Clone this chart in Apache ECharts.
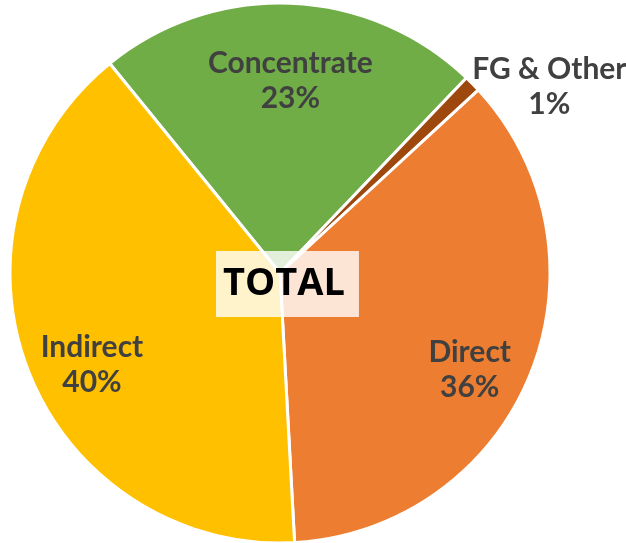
<!DOCTYPE html>
<html>
<head>
<meta charset="utf-8">
<script src="https://cdn.jsdelivr.net/npm/echarts@6/dist/echarts.min.js"></script>
<style>
  html, body { margin: 0; padding: 0; background: #fff; }
  #chart { width: 626px; height: 543px; }
</style>
</head>
<body>
<div id="chart"></div>
<script>
// slice names and shares (%)
const categories = ['Concentrate', 'FG & Other', 'Direct', 'Indirect'];
const shares = [23, 1, 36, 40];
const sliceColors = ['#70AD47', '#9E480E', '#ED7D31', '#FFC000'];

// nudges so labels sit where the original has them
const labelNudge = [[2, 16], [121, -40], [-3, 19], [6, 17]];

const pieData = categories.map((name, i) => ({
    name: name,
    value: shares[i],
    itemStyle: { color: sliceColors[i] }
}));

const chart = echarts.init(document.getElementById('chart'));
chart.setOption({
    animation: false,
    title: {
        text: 'TOTAL',
        left: 216,
        top: 251,
        padding: [13, 14, 13, 7],
        backgroundColor: 'rgba(255,255,255,0.8)',
        textStyle: {
            fontFamily: 'Open Sans',
            fontWeight: 'bold',
            fontSize: 38,
            lineHeight: 40,
            color: '#000'
        }
    },
    series: [
        {
            type: 'pie',
            center: [280, 273],
            radius: [0, 270],
            startAngle: 129.1,
            clockwise: true,
            silent: true,
            itemStyle: { borderColor: '#fff', borderWidth: 3 },
            label: { show: false },
            labelLine: { show: false },
            data: pieData
        },
        {
            // transparent copy only used to place the labels
            type: 'pie',
            center: [280, 273],
            radius: [140, 270],
            startAngle: 129.1,
            clockwise: true,
            silent: true,
            itemStyle: { color: 'transparent' },
            label: {
                show: true,
                position: 'inside',
                formatter: p => p.name + '\n' + Math.round(p.percent) + '%',
                fontFamily: 'Lato',
                fontWeight: 'bold',
                fontSize: 30,
                lineHeight: 35,
                color: '#404040',
                align: 'center'
            },
            labelLayout: p => ({ dx: labelNudge[p.dataIndex][0], dy: labelNudge[p.dataIndex][1] }),
            labelLine: { show: false },
            data: categories.map((name, i) => ({ name: name, value: shares[i] }))
        }
    ]
});
</script>
</body>
</html>
